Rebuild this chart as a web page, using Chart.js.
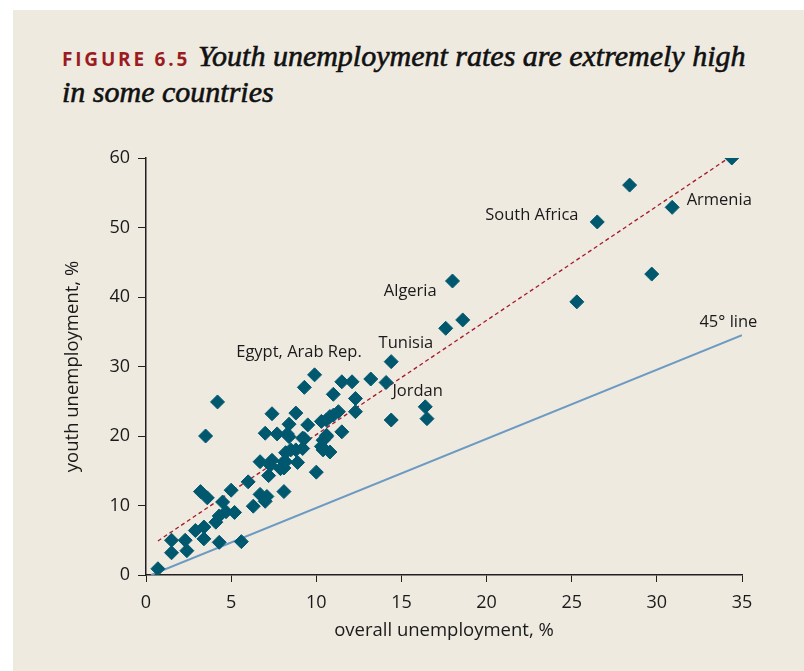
<!DOCTYPE html>
<html>
<head>
<meta charset="utf-8">
<script src="https://cdn.jsdelivr.net/npm/chart.js@4"></script>
<style>
  html, body { margin: 0; padding: 0; background: #ffffff; }
  #panel { position: absolute; left: 13px; top: 10px; width: 791px; height: 661px; background: #EEEAE0; }
  #title { position: absolute; left: 62px; top: 39px; width: 735px; font-family: "Liberation Serif", serif; font-style: italic; font-weight: 400; font-size: 30px; line-height: 34px; color: #111; -webkit-text-stroke: 0.6px #111; }
  #title .fig { font-family: "Open Sans", sans-serif; font-style: normal; font-weight: 700; font-size: 19px; letter-spacing: 2.8px; color: #9B1B1F; margin-right: 8px; -webkit-text-stroke: 0; }
  #title .l2 { display: block; margin-top: -1px; }
  #wrap { position: absolute; left: 0; top: 0; width: 804px; height: 671px; }
</style>
</head>
<body>
<div id="panel"></div>
<div id="title"><span class="fig">FIGURE 6.5</span>Youth unemployment rates are extremely high<span class="l2">in some countries</span></div>
<div id="wrap"><canvas id="chart" width="804" height="671"></canvas></div>
<script>
// overall unemployment (%) vs youth unemployment (%)
const overall = [34.4, 28.4, 26.5, 30.9, 29.7, 25.3, 18.0, 18.6, 17.6, 14.4,
  13.2, 14.1, 14.4, 16.4, 16.5, 9.9, 9.3, 11.5, 12.1, 11.0,
  12.3, 12.3, 11.3, 11.0, 10.6, 10.3, 8.8, 9.5, 8.3, 8.4,
  10.6, 11.5, 9.3, 9.2, 10.4, 10.4, 10.8, 8.2, 8.5, 8.9,
  8.1, 10.0, 8.1, 4.2, 3.5, 7.4, 7.0, 7.7, 0.7, 1.5,
  1.5, 2.3, 2.4, 2.9, 3.4, 3.4, 3.2, 3.6, 4.3, 5.6,
  4.1, 4.3, 4.7, 5.2, 4.5, 5.0, 6.0, 6.3, 6.7, 7.0,
  7.1, 7.2, 7.3, 7.9, 6.7, 7.4, 8.1, 8.8, 10.8, 10.3,
  8.4, 10.6, 9.2, 8.2];
const youth = [60.0, 56.1, 50.8, 52.9, 43.3, 39.3, 42.3, 36.7, 35.5, 30.7,
  28.2, 27.7, 22.3, 24.2, 22.5, 28.8, 27.0, 27.8, 27.8, 26.0,
  25.4, 23.5, 23.5, 23.0, 22.3, 22.1, 23.3, 21.6, 20.3, 21.7,
  20.1, 20.6, 19.6, 18.2, 19.4, 18.0, 17.7, 17.6, 18.0, 16.2,
  15.4, 14.8, 12.0, 24.9, 20.0, 23.2, 20.4, 20.3, 0.9, 5.0,
  3.2, 5.0, 3.5, 6.4, 6.9, 5.2, 12.0, 11.1, 4.7, 4.8,
  7.6, 8.5, 9.1, 9.0, 10.5, 12.2, 13.4, 9.9, 11.6, 10.6,
  11.3, 14.3, 15.8, 15.3, 16.3, 16.5, 16.3, 18.0, 22.8, 18.5,
  19.9, 19.9, 19.7, 16.3];

// fitted line and 45 degree reference line end points
const fitX = [0.7, 34.4];
const fitY = [4.9, 60.3];
const refX = [0.3, 35];
const refY = [0, 34.5];

const xTicks = [0, 5, 10, 15, 20, 25, 30, 35];
const yTicks = [0, 10, 20, 30, 40, 50, 60];

// country labels: text, anchor (data units), alignment
const labelText = ['South Africa', 'Armenia', 'Algeria', 'Tunisia', 'Jordan', 'Egypt, Arab Rep.', '45\u00b0 line'];
const labelX = [25.4, 31.75, 17.07, 16.87, 14.47, 12.67, 32.5];
const labelY = [51.8, 53.9, 40.8, 33.4, 26.5, 32.1, 36.4];
const labelAlign = ['right', 'left', 'right', 'right', 'left', 'right', 'left'];

const FONT = '"Open Sans", "Noto Sans", sans-serif';
const TEXT = '#1A1A1A';

const pts = overall.map((x, i) => ({ x: x, y: youth[i] }));
const fitPts = fitX.map((x, i) => ({ x: x, y: fitY[i] }));
const refPts = refX.map((x, i) => ({ x: x, y: refY[i] }));

const labelPlugin = {
  id: 'countryLabels',
  afterDatasetsDraw(chart) {
    const c = chart.ctx, xs = chart.scales.x, ys = chart.scales.y;
    c.save();
    c.font = '16.5px ' + FONT;
    c.fillStyle = TEXT;
    c.textBaseline = 'middle';
    labelText.forEach((t, i) => {
      c.textAlign = labelAlign[i];
      c.fillText(t, xs.getPixelForValue(labelX[i]), ys.getPixelForValue(labelY[i]));
    });
    c.restore();
  }
};

new Chart(document.getElementById('chart').getContext('2d'), {
  type: 'scatter',
  data: {
    datasets: [
      {
        label: '45 degree line',
        data: refPts,
        showLine: true,
        borderColor: '#6C9AC3',
        borderWidth: 2,
        pointRadius: 0,
        order: 3
      },
      {
        label: 'fit',
        data: fitPts,
        showLine: true,
        borderColor: '#A5192A',
        borderWidth: 1.3,
        borderDash: [4, 3],
        pointRadius: 0,
        order: 2
      },
      {
        label: 'countries',
        data: pts,
        pointStyle: 'rectRot',
        pointRadius: 7,
        pointBackgroundColor: '#00586F',
        pointBorderColor: '#00586F',
        pointBorderWidth: 1,
        order: 1
      }
    ]
  },
  options: {
    responsive: false,
    animation: false,
    layout: { padding: { left: 0, right: 62, top: 158, bottom: 0 } },
    plugins: { legend: { display: false }, tooltip: { enabled: false } },
    scales: {
      x: {
        type: 'linear',
        min: 0, max: 35,
        afterBuildTicks: s => { s.ticks = xTicks.map(v => ({ value: v })); },
        afterFit: s => { s.height = 96; },
        grid: { display: true, drawOnChartArea: false, drawTicks: true, tickLength: 7, color: '#231F20' },
        border: { display: true, color: '#231F20', width: 1.5 },
        ticks: { color: TEXT, font: { family: FONT, size: 18 }, padding: 10, maxRotation: 0 },
        title: { display: true, text: 'overall unemployment, %', color: TEXT, font: { family: FONT, size: 18.5 }, padding: { top: 0, bottom: 29 } }
      },
      y: {
        type: 'linear',
        min: 0, max: 60,
        afterBuildTicks: s => { s.ticks = yTicks.map(v => ({ value: v })); },
        afterFit: s => { s.width = 146; },
        grid: { display: true, drawOnChartArea: false, drawTicks: true, tickLength: 8, color: '#231F20' },
        border: { display: true, color: '#231F20', width: 1.5 },
        ticks: { color: TEXT, font: { family: FONT, size: 18 }, padding: 8 },
        title: { display: true, text: 'youth unemployment, %', color: TEXT, font: { family: FONT, size: 18.5 }, padding: { top: 62, bottom: 0 } }
      }
    }
  },
  plugins: [labelPlugin]
});
</script>
</body>
</html>
